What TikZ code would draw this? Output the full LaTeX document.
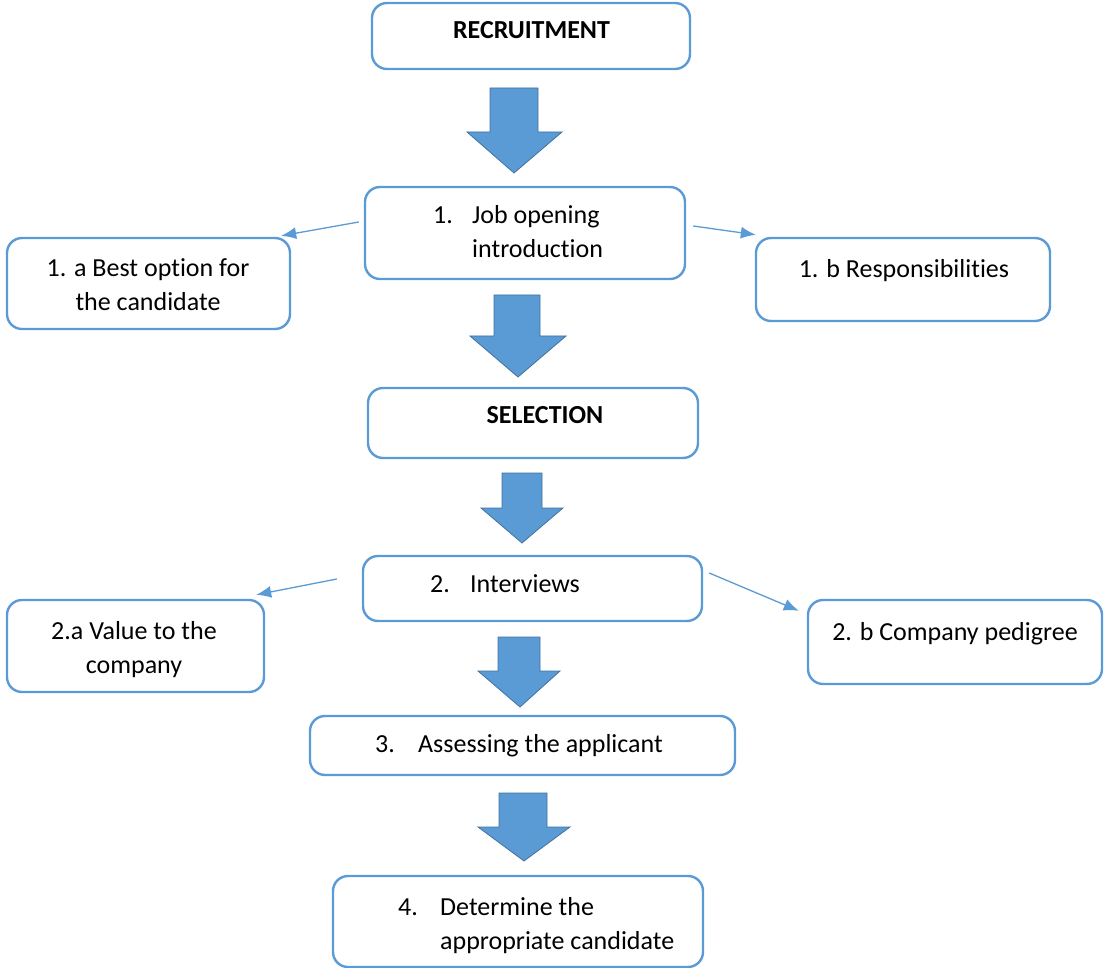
\documentclass[tikz,border=0pt]{standalone}
\usepackage{fontspec}
\setmainfont[Ligatures=NoCommon]{Carlito}
\usetikzlibrary{arrows.meta}
\definecolor{boxblue}{HTML}{5B9BD5}
\definecolor{arrfill}{HTML}{5B9BD5}
\definecolor{arrline}{HTML}{41719C}
\tikzset{
  box/.style={draw=boxblue, line width=2.4pt, rounded corners=15pt, fill=white, inner sep=0pt},
  txt/.style={font=\fontsize{26}{34}\selectfont, inner sep=0pt, text=black},
  bigarrow/.style={fill=arrfill, draw=arrline, line width=0.8pt, line join=miter},
  thinarrow/.style={draw=boxblue, line width=1.3pt, -{Latex[length=15pt,width=12pt]}}
}
\begin{document}
\begin{tikzpicture}[x=1pt, y=-1pt]
\useasboundingbox (0,0) rectangle (1104,968);
% boxes
\node[box, minimum width=318pt, minimum height=66pt] (rec) at (531,36) {};
\node[box, minimum width=320pt, minimum height=92pt] (job) at (525,233) {};
\node[box, minimum width=283pt, minimum height=91pt] (bopt) at (148.5,283.5) {};
\node[box, minimum width=294pt, minimum height=83pt] (resp) at (903,279.5) {};
\node[box, minimum width=330pt, minimum height=70pt] (sel) at (533,423) {};
\node[box, minimum width=339pt, minimum height=65pt] (int) at (532.5,588.5) {};
\node[box, minimum width=257pt, minimum height=92pt] (val) at (135.5,646) {};
\node[box, minimum width=294pt, minimum height=84pt] (ped) at (955,642) {};
\node[box, minimum width=425pt, minimum height=59pt] (ass) at (522.5,745.5) {};
\node[box, minimum width=370pt, minimum height=91pt] (det) at (518,921.5) {};
% texts
\node[txt, anchor=base, font=\fontsize{26}{34}\selectfont\bfseries] (recT) at (531.5,39) {RECRUITMENT};
\node[txt, anchor=base west] (jobT) at (433,224) {\begin{tabular}[t]{@{}p{39pt}@{}l@{}}1.&Job opening\\&introduction\end{tabular}};
\node[txt, anchor=base] (boptT) at (148,277) {\begin{tabular}[t]{@{}c@{}}1. a Best option for\\the candidate\end{tabular}};
\node[txt, anchor=base] (respT) at (904,278) {1. b Responsibilities};
\node[txt, anchor=base, font=\fontsize{26}{34}\selectfont\bfseries] (selT) at (545,424) {SELECTION};
\node[txt, anchor=base west] (intT) at (430,592) {\begin{tabular}[t]{@{}p{40pt}@{}l@{}}2.&Interviews\end{tabular}};
\node[txt, anchor=base] (valT) at (134,639) {\begin{tabular}[t]{@{}c@{}}2.a Value to the\\company\end{tabular}};
\node[txt, anchor=base] (pedT) at (955,640) {2. b Company pedigree};
\node[txt, anchor=base west] (assT) at (375,752) {\begin{tabular}[t]{@{}p{43pt}@{}l@{}}3.&Assessing the applicant\end{tabular}};
\node[txt, anchor=base west] (detT) at (398,915) {\begin{tabular}[t]{@{}p{42pt}@{}l@{}}4.&Determine the\\&appropriate candidate\end{tabular}};
% big block arrows
\draw[bigarrow] (490,88) -- (538,88) -- (538,132) -- (562,132) -- (514,173) -- (467,132) -- (490,132) -- cycle;
\draw[bigarrow] (494,295) -- (540,295) -- (540,336) -- (566,336) -- (518,377) -- (470,336) -- (494,336) -- cycle;
\draw[bigarrow] (502,473) -- (542,473) -- (542,508) -- (563,508) -- (522,543) -- (481,508) -- (502,508) -- cycle;
\draw[bigarrow] (498,637) -- (540,637) -- (540,671) -- (560,671) -- (520,707) -- (478,671) -- (498,671) -- cycle;
\draw[bigarrow] (499,793) -- (547,793) -- (547,827) -- (570,827) -- (524,861) -- (478,827) -- (499,827) -- cycle;
% thin arrows
\draw[thinarrow] ([shift={(-5,-11)}]job.west) -- ([shift={(-10,-1)}]bopt.north east);
\draw[thinarrow] ([shift={(7,-7)}]job.east) -- ([shift={(1,-2)}]resp.north west);
\draw[thinarrow] ([shift={(-25,-9.5)}]int.west) -- ([shift={(-9,-4)}]val.north east);
\draw[thinarrow] ([shift={(6,-15.5)}]int.east) -- ([shift={(-8,12)}]ped.north west);
\end{tikzpicture}
\end{document}
